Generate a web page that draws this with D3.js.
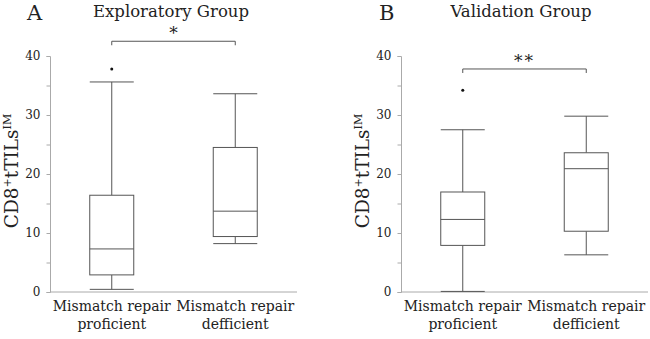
<!DOCTYPE html>
<html>
<head>
<meta charset="utf-8">
<script src="https://cdn.jsdelivr.net/npm/d3@7"></script>
<style>
  body { margin: 0; background: #fff; }
  text { font-family: "DejaVu Serif", serif; fill: #222; }
</style>
</head>
<body>
<div id="chart"></div>
<script>
// categories and tick labels
const categories = ['Mismatch repair|proficient', 'Mismatch repair|defficient'];
const yTicks = [0, 5, 10, 15, 20, 25, 30, 35, 40];

// box stats: [lower whisker, q1, median, q3, upper whisker]
const exploratoryStats = [[0.45, 2.9, 7.3, 16.4, 35.6], [8.2, 9.4, 13.7, 24.5, 33.6]];
const exploratoryOutliers = [[37.8], []];
const validationStats = [[0.1, 7.9, 12.3, 16.95, 27.5], [6.3, 10.3, 20.9, 23.6, 29.8]];
const validationOutliers = [[34.2], []];

const panels = [
    { letter: 'A', title: 'Exploratory Group', stats: exploratoryStats, outliers: exploratoryOutliers,
      left: 50, sig: '*', sigValue: 42.5, letterX: 27, titleX: 171 },
    { letter: 'B', title: 'Validation Group', stats: validationStats, outliers: validationOutliers,
      left: 401, sig: '**', sigValue: 37.8, letterX: 379, titleX: 521 }
];

const svg = d3.select('#chart').append('svg')
    .attr('width', 650)
    .attr('height', 339);

const plotW = 247;
const y = d3.scaleLinear().domain([0, 40]).range([292, 56]);

panels.forEach(p => {
    const g = svg.append('g');
    const x = d3.scaleBand().domain(categories).range([p.left, p.left + plotW]);
    const bw = 44;

    g.append('text')
        .attr('x', p.letterX)
        .attr('y', 20)
        .style('font-size', '21px')
        .text(p.letter);

    g.append('text')
        .attr('x', p.titleX)
        .attr('y', 17)
        .attr('text-anchor', 'middle')
        .style('font-size', '16.5px')
        .text(p.title);

    // y axis
    const axis = g.append('g')
        .attr('transform', `translate(${p.left},0)`)
        .call(d3.axisLeft(y)
            .tickValues(yTicks)
            .tickSize(3.5)
            .tickPadding(6)
            .tickFormat(d => d % 10 === 0 ? d : ''));
    axis.select('.domain').attr('stroke', '#aaa');
    axis.selectAll('.tick line').attr('stroke', '#aaa');
    axis.selectAll('.tick text')
        .style('font-family', '"DejaVu Serif", serif')
        .style('font-size', '12px')
        .attr('fill', '#222');

    // x axis line
    g.append('line')
        .attr('x1', p.left).attr('x2', p.left + plotW)
        .attr('y1', y(0)).attr('y2', y(0))
        .attr('stroke', '#aaa');

    // y label
    const lab = g.append('text')
        .attr('transform', `translate(${p.left - 32},${(y(0) + y(40)) / 2 - 3}) rotate(-90)`)
        .attr('text-anchor', 'middle')
        .style('font-size', '18.5px');
    lab.append('tspan').text('CD8');
    lab.append('tspan').attr('dy', -7).style('font-size', '11px').text('+');
    lab.append('tspan').attr('dy', 7).text('tTILs');
    lab.append('tspan').attr('dy', -7).style('font-size', '11px').text('IM');

    // x labels
    categories.forEach(c => {
        const lines = c.split('|');
        const t = g.append('text')
            .attr('text-anchor', 'middle')
            .style('font-size', '14px');
        lines.forEach((l, i) => {
            t.append('tspan')
                .attr('x', x(c) + x.bandwidth() / 2)
                .attr('y', 311 + i * 18)
                .text(l);
        });
    });

    // boxes
    p.stats.forEach((s, i) => {
        const cx = x(categories[i]) + x.bandwidth() / 2;
        const bg = g.append('g').attr('stroke', '#555').attr('fill', 'none');
        bg.append('line').attr('x1', cx).attr('x2', cx).attr('y1', y(s[0])).attr('y2', y(s[1]));
        bg.append('line').attr('x1', cx).attr('x2', cx).attr('y1', y(s[3])).attr('y2', y(s[4]));
        [s[0], s[4]].forEach(v => {
            bg.append('line').attr('x1', cx - bw / 2).attr('x2', cx + bw / 2)
                .attr('y1', y(v)).attr('y2', y(v));
        });
        bg.append('rect')
            .attr('x', cx - bw / 2).attr('width', bw)
            .attr('y', y(s[3])).attr('height', y(s[1]) - y(s[3]))
            .attr('fill', '#fff');
        bg.append('line').attr('x1', cx - bw / 2).attr('x2', cx + bw / 2)
            .attr('y1', y(s[2])).attr('y2', y(s[2]));
        p.outliers[i].forEach(o => {
            g.append('circle').attr('cx', cx).attr('cy', y(o)).attr('r', 1.5).attr('fill', '#111');
        });
    });

    // significance bracket
    const x1 = x(categories[0]) + x.bandwidth() / 2;
    const x2 = x(categories[1]) + x.bandwidth() / 2;
    const by = y(p.sigValue);
    g.append('path')
        .attr('d', `M${x1},${by + 4}V${by}H${x2}V${by + 4}`)
        .attr('fill', 'none')
        .attr('stroke', '#555');
    g.append('text')
        .attr('x', (x1 + x2) / 2)
        .attr('y', by - 2)
        .attr('text-anchor', 'middle')
        .attr('letter-spacing', p.sig.length > 1 ? 2 : 0)
        .style('font-size', '17px')
        .text(p.sig);
});
</script>
</body>
</html>
